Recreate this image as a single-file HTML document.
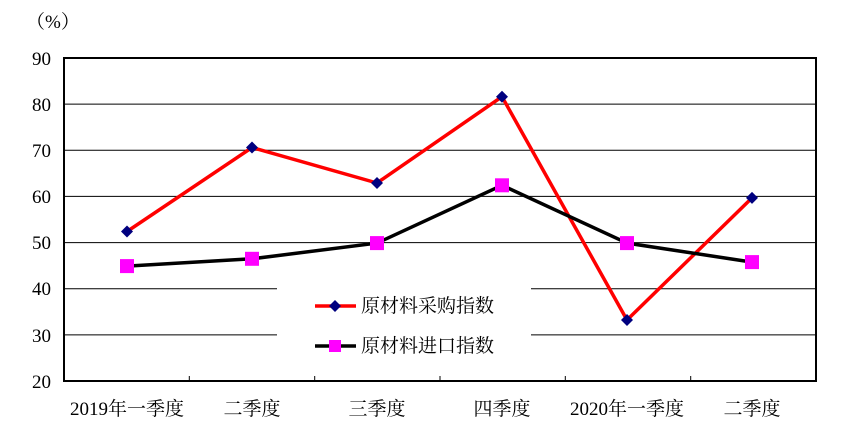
<!DOCTYPE html>
<html><head><meta charset="utf-8"><style>
body{margin:0;background:#fff}
text{font-family:"Liberation Serif","Noto Serif CJK SC",serif;font-size:19px;fill:#000}
</style></head><body>
<svg width="846" height="429" xmlns="http://www.w3.org/2000/svg">
<text x="26" y="28" font-size="19">（%）</text>
<g stroke="#000" stroke-width="1">
<line x1="64" y1="104.1" x2="816" y2="104.1"/>
<line x1="64" y1="150.3" x2="816" y2="150.3"/>
<line x1="64" y1="196.4" x2="816" y2="196.4"/>
<line x1="64" y1="242.6" x2="816" y2="242.6"/>
<line x1="64" y1="288.7" x2="816" y2="288.7"/>
<line x1="64" y1="334.9" x2="816" y2="334.9"/>
</g>
<rect x="277" y="282" width="254" height="84" fill="#fff"/>
<rect x="64" y="58" width="752" height="323" fill="none" stroke="#000" stroke-width="2"/>
<g stroke="#000" stroke-width="1">
<line x1="189.3" y1="376" x2="189.3" y2="381"/><line x1="314.7" y1="376" x2="314.7" y2="381"/>
<line x1="440" y1="376" x2="440" y2="381"/><line x1="565.3" y1="376" x2="565.3" y2="381"/>
<line x1="690.7" y1="376" x2="690.7" y2="381"/>
</g>
<g text-anchor="end">
<text x="51" y="65">90</text><text x="51" y="111">80</text><text x="51" y="157">70</text>
<text x="51" y="203">60</text><text x="51" y="249">50</text><text x="51" y="295">40</text>
<text x="51" y="342">30</text><text x="51" y="388">20</text>
</g>
<g text-anchor="middle">
<text x="127" y="415">2019年一季度</text><text x="252" y="415">二季度</text>
<text x="377" y="415">三季度</text><text x="502" y="415">四季度</text>
<text x="627" y="415">2020年一季度</text><text x="752" y="415">二季度</text>
</g>
<polyline fill="none" stroke="#f00" stroke-width="3.5" points="127,231.5 252,147.5 377,183 502,96.7 627,320 752,197.9"/>
<polyline fill="none" stroke="#000" stroke-width="3.5" points="127,266.1 252,258.8 377,243.1 502,185.3 627,243.1 752,262.1"/>
<g fill="#00007f">
<path d="M127,225.5 l6,6 -6,6 -6,-6z"/><path d="M252,141.5 l6,6 -6,6 -6,-6z"/>
<path d="M377,177 l6,6 -6,6 -6,-6z"/><path d="M502,90.7 l6,6 -6,6 -6,-6z"/>
<path d="M627,314 l6,6 -6,6 -6,-6z"/><path d="M752,191.9 l6,6 -6,6 -6,-6z"/>
</g>
<g fill="#f0f">
<rect x="120" y="259.1" width="14" height="14"/><rect x="245" y="251.8" width="14" height="14"/>
<rect x="370" y="236.1" width="14" height="14"/><rect x="495" y="178.3" width="14" height="14"/>
<rect x="620" y="236.1" width="14" height="14"/><rect x="745" y="255.1" width="14" height="14"/>
</g>
<line x1="315" y1="306" x2="356" y2="306" stroke="#f00" stroke-width="3.5"/>
<path d="M335,300 l6,6 -6,6 -6,-6z" fill="#00007f"/>
<text x="361" y="312">原材料采购指数</text>
<line x1="315" y1="346" x2="356" y2="346" stroke="#000" stroke-width="3.5"/>
<rect x="329" y="340" width="12" height="12" fill="#f0f"/>
<text x="361" y="352">原材料进口指数</text>
</svg>
</body></html>
